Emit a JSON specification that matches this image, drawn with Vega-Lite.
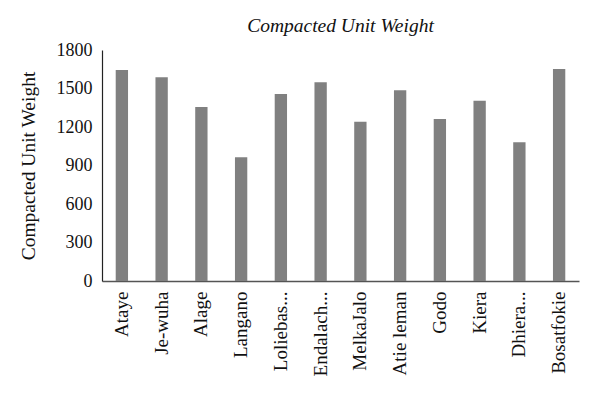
{
  "$schema": "https://vega.github.io/schema/vega-lite/v6.json",
  "width": 477,
  "height": 231,
  "autosize": "none",
  "padding": {"left": 102, "top": 50, "right": 21, "bottom": 117},
  "background": "white",
  "title": {
    "text": "Compacted Unit Weight",
    "font": "Liberation Serif",
    "fontStyle": "italic",
    "fontWeight": "normal",
    "fontSize": 19.5,
    "color": "#111",
    "anchor": "middle",
    "frame": "group",
    "offset": 5
  },
  "data": {
    "values": [
      {"site": "Ataye", "weight": 1644},
      {"site": "Je-wuha", "weight": 1587},
      {"site": "Alage", "weight": 1356},
      {"site": "Langano", "weight": 964},
      {"site": "Loliebas...", "weight": 1457},
      {"site": "Endalach...", "weight": 1548},
      {"site": "MelkaJalo", "weight": 1241},
      {"site": "Atie leman", "weight": 1486},
      {"site": "Godo", "weight": 1262},
      {"site": "Kiera", "weight": 1405},
      {"site": "Dhiera...", "weight": 1081},
      {"site": "Bosatfokie", "weight": 1652}
    ]
  },
  "mark": {"type": "bar", "color": "#808080"},
  "encoding": {
    "x": {
      "field": "site",
      "type": "nominal",
      "sort": null,
      "scale": {"paddingInner": 0.69, "paddingOuter": 0.345},
      "axis": {
        "title": null,
        "labelAngle": -90,
        "labelFont": "Liberation Serif",
        "labelFontSize": 19,
        "labelColor": "#111",
        "labelPadding": 10,
        "ticks": false,
        "domainColor": "#555",
        "domainWidth": 1.5,
        "labelLimit": 0
      }
    },
    "y": {
      "field": "weight",
      "type": "quantitative",
      "scale": {"domain": [0, 1800], "nice": false},
      "axis": {
        "values": [0, 300, 600, 900, 1200, 1500, 1800],
        "format": "d",
        "title": "Compacted Unit Weight",
        "titleFont": "Liberation Serif",
        "titleFontSize": 19.5,
        "titleFontWeight": "normal",
        "titleColor": "#111",
        "titleX": -64,
        "labelFont": "Liberation Serif",
        "labelFontSize": 18,
        "labelColor": "#111",
        "labelPadding": 10,
        "ticks": false,
        "grid": false,
        "domainColor": "#222",
        "domainWidth": 1.2
      }
    }
  },
  "config": {"view": {"stroke": null}}
}
